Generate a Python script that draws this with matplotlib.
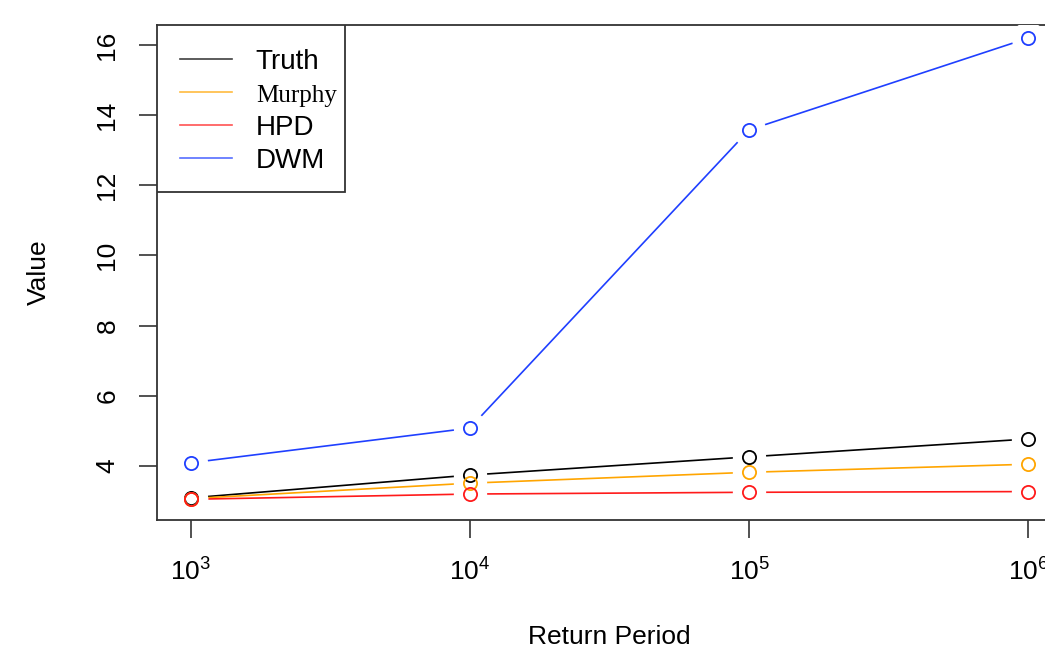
import matplotlib
matplotlib.use("Agg")
from matplotlib import pyplot as plt
from matplotlib.lines import Line2D
from matplotlib.patches import Rectangle

plt.rcParams['font.family'] = ['Liberation Sans', 'DejaVu Sans']
plt.rcParams['mathtext.fontset'] = 'custom'
plt.rcParams['mathtext.rm'] = 'Liberation Sans'
plt.rcParams['mathtext.it'] = 'Liberation Sans'

# return periods and estimated values per method
periods = [1e3, 1e4, 1e5, 1e6]
truth = [3.09, 3.74, 4.26, 4.77]
murphy = [3.07, 3.51, 3.82, 4.05]
hpd = [3.05, 3.20, 3.25, 3.27]
dwm = [4.09, 5.08, 13.58, 16.20]

names = ["Truth", "Murphy", "HPD", "DWM"]
colors = ["black", "#FFA500", "#FF1A1A", "#1F3FFF"]
series = [truth, murphy, hpd, dwm]
yticks = [4, 6, 8, 10, 12, 14, 16]


def display():
    fig = plt.figure(figsize=(10.45, 6.48), dpi=100)
    ax = fig.add_axes([157 / 1045, 1 - 520 / 648, 905 / 1045, 495 / 648])

    # lines first, then white discs to leave gaps (R type="b"), then circles
    for vals, c in zip(series, colors):
        ax.plot(periods, vals, color=c, lw=1.2, zorder=2)
    for vals in series:
        ax.plot(periods, vals, ls='none', marker='o', ms=24,
                mfc='white', mec='none', zorder=3)
    for vals, c in zip(series, colors):
        ax.plot(periods, vals, ls='none', marker='o', ms=9.5,
                mfc='none', mec=c, mew=1.3, zorder=4)

    ax.set_xscale('log')
    ax.set_xlim(10 ** 2.88, 10 ** 6.12)
    ax.set_ylim(2.46, 16.57)
    ax.set_xticks(periods)
    ax.set_xticklabels([r'$10^{%d}$' % p for p in range(3, 7)])
    ax.xaxis.set_minor_locator(matplotlib.ticker.NullLocator())
    ax.set_yticks(yticks)
    ax.set_yticklabels([str(v) for v in yticks], rotation=90, va='center')

    ax.tick_params(axis='both', length=13, width=1.2, color='#333333',
                   labelsize=19)
    ax.tick_params(axis='x', pad=15)
    ax.tick_params(axis='y', pad=14)
    for s in ax.spines.values():
        s.set_linewidth(1.3)
        s.set_color('#333333')

    ax.set_xlabel("Return Period", fontsize=19, va='center')
    ax.xaxis.set_label_coords(0.5, -0.236)
    ax.set_ylabel("Value", fontsize=19, va='center')
    ax.yaxis.set_label_coords(-0.131, 0.5)

    # legend box drawn separately (R legend box is tighter on the right)
    box = Rectangle((0, 1 - 167 / 495), 188 / 905, 167 / 495,
                    transform=ax.transAxes, facecolor='white',
                    edgecolor='#333333', lw=1.3, zorder=5)
    ax.add_patch(box)

    handles = [Line2D([], [], color=c, lw=1.2, alpha=0.75) for c in colors]
    leg = ax.legend(handles, names, loc='upper left',
                    bbox_to_anchor=(6 / 905, 1 - 7 / 495), borderaxespad=0,
                    fontsize=20, frameon=False, handlelength=1.87,
                    handletextpad=0.85, labelspacing=0.27, borderpad=0.62)
    leg.set_zorder(6)
    leg.get_texts()[1].set_fontfamily('Liberation Serif')
    leg.get_texts()[1].set_fontsize(18)

    fig.savefig("out.png", dpi=100)


if __name__ == "__main__":
    display()
